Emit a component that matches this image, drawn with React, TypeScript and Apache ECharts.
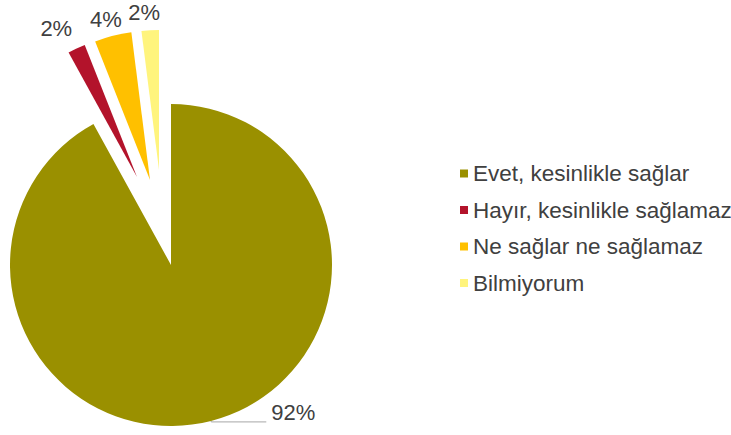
import React, { useEffect, useRef } from "react";
import * as echarts from "echarts";

const categories = [
  "Evet, kesinlikle sağlar",
  "Hayır, kesinlikle sağlamaz",
  "Ne sağlar ne sağlamaz",
  "Bilmiyorum",
];
const values = [92, 2, 4, 2];
const colors = ["#9A9000", "#B3132B", "#FFC000", "#FFF47D"];

// per-slice exploded geometry (positions / sizes only)
const geom = [
  { center: [171, 265], radius: 161, len: 1, len2: 55, dx: 0, dy: 0 },
  { center: [137, 177], radius: 142, len: 22, len2: 0, dx: 10, dy: 0 },
  { center: [150, 180], radius: 149, len: 17, len2: 0, dx: 18, dy: 0 },
  { center: [159, 170], radius: 140, len: 18, len2: 0, dx: 16, dy: 0 },
];

const FONT = "'Liberation Sans', Arial, sans-serif";
const TEXT = "#404040";

export default function App() {
  const ref = useRef<HTMLDivElement>(null);
  useEffect(() => {
    document.body.style.margin = "0";
    if (!ref.current) return;
    const chart = echarts.init(ref.current, null, { renderer: "svg" });
    const series = geom.map((g, i) => ({
      type: "pie",
      animation: false,
      silent: true,
      avoidLabelOverlap: false,
      startAngle: 90,
      clockwise: true,
      center: g.center,
      radius: g.radius,
      emphasis: { disabled: true },
      itemStyle: { borderWidth: 0 },
      label: {
        position: "outside",
        formatter: i === 0 ? "{c}%\n{s| }" : "{c}%",
        fontSize: 22,
        lineHeight: 22,
        fontFamily: FONT,
        color: TEXT,
        rich: { s: { fontSize: 1, lineHeight: 18 } },
      },
      labelLine: {
        length: g.len,
        length2: g.len2,
        lineStyle: { color: "#A6A6A6", width: 1 },
      },
      labelLayout: i === 0 ? undefined : { dx: g.dx, dy: g.dy },
      data: categories.map((name, j) => ({
        name,
        value: values[j],
        itemStyle: { color: j === i ? colors[j] : "rgba(0,0,0,0)" },
        label: { show: j === i },
        labelLine: { show: j === i && i === 0 },
      })),
    }));
    chart.setOption({
      animation: false,
      legend: {
        orient: "vertical",
        left: 455,
        top: 157,
        itemWidth: 8,
        itemHeight: 8,
        itemGap: 13.5,
        icon: "rect",
        selectedMode: false,
        textStyle: { fontSize: 22.5, fontFamily: FONT, color: TEXT },
        data: categories.map((name, i) => ({
          name,
          itemStyle: { color: colors[i], borderWidth: 0 },
        })),
      },
      series,
    });
    return () => chart.dispose();
  }, []);
  return <div ref={ref} style={{ width: 731, height: 435 }} />;
}
